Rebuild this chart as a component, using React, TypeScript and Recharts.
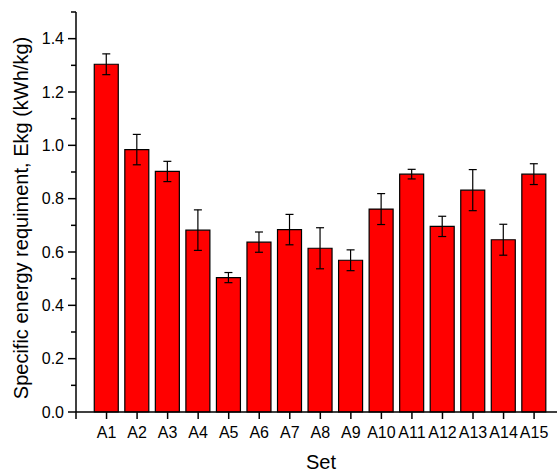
import { ComposedChart, Bar, ErrorBar, XAxis, YAxis } from "recharts";

const sets = ["A1", "A2", "A3", "A4", "A5", "A6", "A7", "A8", "A9", "A10", "A11", "A12", "A13", "A14", "A15"];
const ekg = [1.304, 0.984, 0.902, 0.682, 0.504, 0.637, 0.684, 0.614, 0.569, 0.761, 0.892, 0.696, 0.832, 0.646, 0.892];
const ekgErr = [0.039, 0.057, 0.038, 0.076, 0.019, 0.038, 0.057, 0.077, 0.039, 0.058, 0.018, 0.038, 0.077, 0.058, 0.039];
const yTicks = [0, 0.1, 0.2, 0.3, 0.4, 0.5, 0.6, 0.7, 0.8, 0.9, 1.0, 1.1, 1.2, 1.3, 1.4, 1.5];

const data = sets.map((name, i) => ({ pos: i + 1, name, ekg: ekg[i], err: ekgErr[i] }));
const xTicks = [0, ...sets.map((_, i) => i + 1)];

const FONT = "'Liberation Sans', Arial, sans-serif";

// y ticks: long ticks with labels every 0.2, short ticks between
const YTick = (props: any) => {
  const { x, y, payload } = props;
  const axisX = x + 12;
  const major = Math.round(payload.value * 10) % 2 === 0;
  return (
    <g>
      <line x1={axisX} y1={y} x2={axisX - (major ? 8 : 5)} y2={y} stroke="#000" strokeWidth={1.5} />
      {major && (
        <text x={x} y={y} dy={5.5} textAnchor="end" fontSize={16} fill="#000" fontFamily={FONT}>
          {payload.value.toFixed(1)}
        </text>
      )}
    </g>
  );
};

const App = () => {
  return (
    <div style={{ position: "absolute", left: 0, top: 0, fontFamily: FONT }}>
      <ComposedChart width={557} height={473} data={data} margin={{ top: 12, right: 0, bottom: 31, left: 0 }}>
        <XAxis
          dataKey="pos"
          type="number"
          domain={[0, 15.75]}
          allowDataOverflow
          ticks={xTicks}
          interval={0}
          tickFormatter={(v: number) => sets[v - 1] ?? ""}
          tickSize={7}
          tickMargin={8}
          height={30}
          axisLine={{ stroke: "#000", strokeWidth: 1.5 }}
          tickLine={{ stroke: "#000", strokeWidth: 1.5 }}
          tick={{ fill: "#000", fontSize: 16, fontFamily: FONT }}
          label={{
            content: () => (
              <text x={321} y={469} textAnchor="middle" fontSize={20} fill="#000" fontFamily={FONT}>
                Set
              </text>
            ),
          }}
        />
        <YAxis
          type="number"
          domain={[0, 1.5]}
          ticks={yTicks}
          interval={0}
          width={76}
          tickSize={8}
          tickMargin={4}
          tickLine={false}
          axisLine={{ stroke: "#000", strokeWidth: 1.5 }}
          tick={<YTick />}
          label={{
            content: () => (
              <text
                x={28}
                y={218}
                transform="rotate(-90, 28, 218)"
                textAnchor="middle"
                fontSize={20}
                fill="#000"
                fontFamily={FONT}
              >
                Specific energy requiment, Ekg (kWh/kg)
              </text>
            ),
          }}
        />
        <Bar dataKey="ekg" fill="#ff0000" stroke="#000" strokeWidth={1.2} barSize={24} isAnimationActive={false}>
          <ErrorBar dataKey="err" width={4} stroke="#000" strokeWidth={1.2} isAnimationActive={false} />
        </Bar>
      </ComposedChart>
    </div>
  );
};

export default App;
